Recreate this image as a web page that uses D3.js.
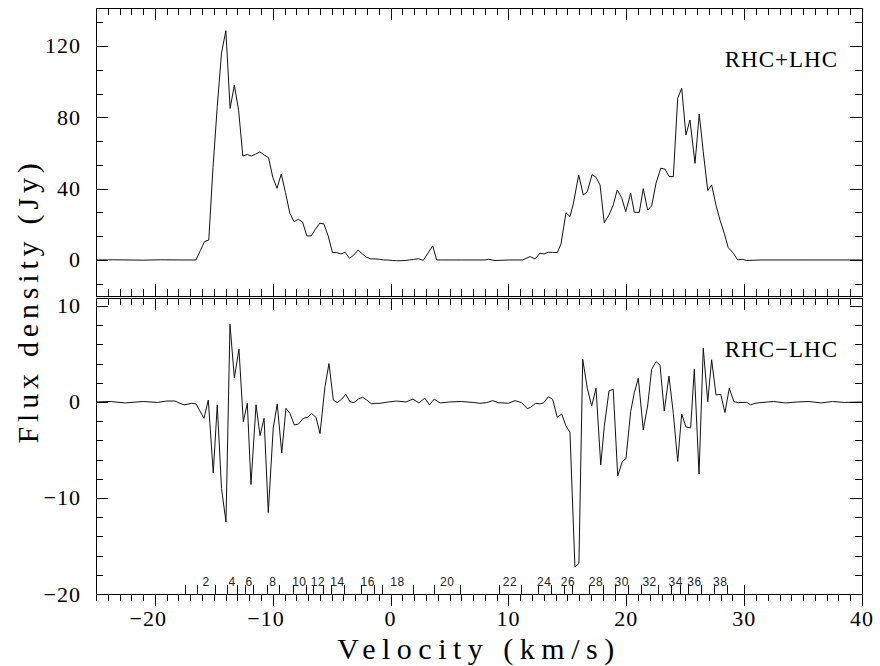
<!DOCTYPE html>
<meta charset="utf-8">
<style>
body{ margin:0; background:#fff; }
text{ font-family:"Liberation Serif", serif; fill:#000; }
.num{ font-size:22px; letter-spacing:1px; }
.title{ font-size:30px; }
.tag{ font-size:23px; letter-spacing:1px; }
.spot{ font-family:"Liberation Sans", sans-serif; font-size:12px; fill:#222; letter-spacing:0.5px; }
line{ stroke:#000; stroke-width:1; shape-rendering:crispEdges; }
.frame{ fill:none; stroke:#000; stroke-width:1; shape-rendering:crispEdges; }
.spec{ fill:none; stroke:#111; stroke-width:1; stroke-linejoin:round; }
</style>
<body>
<script src="https://d3js.org/d3.v7.min.js"></script>
<script>

// RHC+LHC (top panel)
var velSum = [-25,-23.5,-21.0,-19.5,-17.87,-16.52,-16.15,-15.79,-15.43,-15.07,-14.71,-14.35,-13.98,-13.62,-13.26,
  -12.90,-12.54,-12.17,-11.81,-11.45,-11.09,-10.73,-10.36,-10.00,-9.64,-9.28,-8.92,-8.55,-8.19,-7.83,-7.47,
  -7.11,-6.74,-6.38,-6.02,-5.66,-5.30,-4.93,-4.57,-4.21,-3.85,-3.49,-3.12,-2.76,-2.40,-2.04,-1.68,-1.31,-0.95,
  -0.59,-0.23,0.14,0.50,0.86,1.22,1.58,1.95,2.35,2.77,3.57,3.91,4.3,6.0,8.0,8.29,8.86,10.0,11.21,11.83,12.25,
  12.68,13.01,13.38,13.74,14.14,14.46,14.88,15.22,15.50,15.96,16.35,16.69,17.09,17.43,17.77,18.13,18.53,18.89,
  19.23,19.61,19.95,20.37,20.68,21.10,21.44,21.81,22.15,22.52,22.92,23.28,23.62,23.99,24.36,24.70,25.06,25.40,
  25.83,26.19,26.53,26.91,27.24,27.61,27.95,28.31,28.65,29.08,29.45,29.84,30.21,31.34,35.0,40.0];
var fluxSum = [0,0.1,-0.1,0.1,0,0,5.2,10.3,11.2,52,86,116,128.6,85,98,
  84,58.3,59.1,58.3,59.4,60.6,58.9,57.4,46.4,40.2,48.2,37.8,26.2,21.5,22.8,21.3,
  13.5,13.5,17.2,20.6,20.2,13.5,4.1,4.1,3.4,4.3,0.9,2.8,5.6,3.4,1.5,0.6,0.6,0.4,
  0,0,-0.3,-0.4,-0.4,-0.3,0,0.3,0.7,-0.2,7.9,0,0,0,0,0.4,-0.3,0,0,1.9,0.6,
  3.8,3.4,4.3,4.3,4.1,9.0,26.5,24.3,31.4,47.7,36.4,38.3,47.8,46.4,42.1,20.9,25.2,30.8,
  39.3,34.9,27.1,37.4,26.7,26.7,40.0,28.0,30.3,43.0,51.4,51.0,46.9,46.7,90.7,96.3,70.1,78.5,
  54.2,81.9,60.7,38.9,42.1,30.8,22.4,15.0,6.9,3.8,0,0.4,-0.3,0,0,0];

// RHC-LHC (bottom panel)
var velDiff = [-25,-23.8,-22.5,-21.0,-19.8,-19.0,-18.3,-17.87,-17.53,-16.88,-16.51,-15.84,-15.47,-15.05,-14.71,
  -14.35,-13.97,-13.63,-13.26,-12.87,-12.50,-12.16,-11.85,-11.42,-11.08,-10.74,-10.38,-9.96,-9.62,-9.24,-8.88,
  -8.54,-8.17,-7.83,-7.41,-7.04,-6.70,-6.33,-5.99,-5.57,-5.23,-4.86,-4.52,-4.15,-3.81,-3.45,-3.11,-2.74,-2.37,
  -2.03,-1.61,-1.33,-0.90,-0.2,0.5,1.3,1.9,2.4,2.9,3.3,3.7,4.2,5.0,6.0,7.0,7.58,8.15,8.66,9.14,9.99,10.55,
  11.12,11.60,11.88,12.31,12.67,13.01,13.38,13.75,14.14,14.52,14.88,15.22,15.64,15.98,16.30,16.69,17.06,17.43,
  17.83,18.13,18.53,18.89,19.27,19.66,19.97,20.37,20.68,21.02,21.44,21.81,22.15,22.52,22.86,23.22,23.62,23.99,
  24.36,24.70,25.06,25.46,25.77,26.17,26.53,26.91,27.24,27.61,28.01,28.37,28.74,29.13,29.50,30.21,30.55,30.92,
  31.34,32.5,33.5,34.5,35.5,36.5,37.5,38.5,40.0];
var fluxDiff = [0,0.05,-0.1,0.05,-0.05,0.1,0.1,-0.14,-0.3,-0.14,-0.2,-1.7,0.2,-7.4,-0.3,
  -9.0,-12.5,8.1,2.5,5.5,-2.05,-0.14,-8.6,-0.3,-3.5,-1.7,-11.5,-2.7,-0.2,-5.3,-0.66,
  -1.2,-2.4,-2.3,-1.7,-1.6,-1.2,-1.6,-3.3,1.6,4.0,0.2,-0.07,0.3,0.8,0.03,-0.07,0.3,0.5,
  0.2,-0.2,-0.14,-0.14,0,0.1,0,0.3,-0.1,0.4,-0.3,0.3,-0.1,0,0.05,-0.05,-0.14,-0.07,0.14,-0.07,-0.14,0.14,
  -0.07,-0.7,-0.55,-0.14,-0.2,-0.07,0.55,0.28,-1.6,-1.25,-2.5,-3.15,-17.2,-16.8,4.45,1.43,-0.42,1.43,
  -6.56,-2.57,1.15,1.32,-7.7,-6.2,-5.9,-1.0,0.97,2.47,-2.9,-0.42,3.4,4.2,3.85,-0.94,2.7,-1.18,
  -6.2,-1.25,-2.6,-2.7,3.4,-7.5,5.6,0.03,4.4,0.73,0.8,-1.1,1.43,0.03,-0.07,-0.03,-0.3,-0.14,
  -0.07,0.05,-0.1,0,0.05,-0.1,0.05,-0.05,0];

// numbered spot markers along the velocity axis (1..40)
var spotVel = [-17.45,-16.40,-14.90,-13.86,-13.06,-12.36,-11.65,-10.52,-9.47,-8.31,
  -7.18,-6.56,-5.76,-5.06,-3.96,-2.51,-1.39,-0.71,1.87,3.68,
  5.93,9.22,11.04,12.49,13.59,14.71,15.39,16.86,17.99,19.04,
  20.17,21.24,22.71,23.83,24.55,25.23,26.34,27.40,28.54,29.99];

var xTicks = [-20,-10,0,10,20,30,40];
var sumTicks = [0,40,80,120];
var diffTicks = [-20,-10,0,10];
var panelTags = ["RHC+LHC","RHC\u2212LHC"];

var svg = d3.select("body").append("svg").attr("width",880).attr("height",666);

var x = d3.scaleLinear().domain([-25,40]).range([96,862]);
var yTop = d3.scaleLinear().domain([-20.2,141.3]).range([296,8]);
var yBot = d3.scaleLinear().domain([-20,10.83]).range([594,298]);

var minorLen = 7, majorLen = 12;
var minusW = 6.7;   // half width of the minus sign, digits stay centred on the tick

function lab(v){ return d3.format("")(v).replace("-","\u2212"); }

function panel(y, major, minorStep, tag, outsideBottom){
  var g = svg.append("g");
  var x0 = x.range()[0], x1 = x.range()[1];
  var yb = y.range()[0], yt = y.range()[1];

  g.append("rect").attr("class","frame")
    .attr("x",x0+0.5).attr("y",yt+0.5).attr("width",x1-x0).attr("height",yb-yt);

  // x ticks every 1 km/s
  d3.range(-25,40.5,1).forEach(function(v){
    var len = (v%10===0)? majorLen : minorLen;
    var px = Math.round(x(v))+0.5;
    g.append("line").attr("x1",px).attr("x2",px).attr("y1",yt).attr("y2",yt+len);
    if(outsideBottom) g.append("line").attr("x1",px).attr("x2",px).attr("y1",yb).attr("y2",yb+len);
    else g.append("line").attr("x1",px).attr("x2",px).attr("y1",yb).attr("y2",yb-len);
  });

  // y ticks
  var d = y.domain();
  var step = major[1]-major[0];
  var k0 = Math.ceil((d[0]-major[0])/minorStep-1e-6), k1 = Math.floor((d[1]-major[0])/minorStep+1e-6);
  d3.range(k0,k1+1).forEach(function(k){
    var v = major[0]+k*minorStep;
    var isMajor = Math.abs(Math.round(v/step)*step - v) < 1e-6;
    var len = isMajor? majorLen : minorLen;
    var py = Math.round(y(v))+0.5;
    g.append("line").attr("x1",x0).attr("x2",x0+len).attr("y1",py).attr("y2",py);
    g.append("line").attr("x1",x1).attr("x2",x1-len).attr("y1",py).attr("y2",py);
  });

  g.selectAll(".ylab").data(major).enter().append("text").attr("class","num")
    .attr("x",x0-15).attr("y",function(v){ return y(v)+7.5; })
    .attr("text-anchor","end")
    .text(lab);

  g.append("text").attr("class","tag")
    .attr("x",x1-24).attr("y",yt+59)
    .attr("text-anchor","end").text(tag);
  return g;
}

panel(yTop, sumTicks, 40/3, panelTags[0], false);
var gb = panel(yBot, diffTicks, 2, panelTags[1], true);

var line = d3.line().x(d=>x(d[0]));

svg.append("path").attr("class","spec")
  .attr("d", line.y(d=>yTop(d[1]))(d3.zip(velSum,fluxSum)));
svg.append("path").attr("class","spec")
  .attr("d", line.y(d=>yBot(d[1]))(d3.zip(velDiff,fluxDiff)));

// spot markers on the bottom axis
var base = yBot.range()[0];
spotVel.forEach(function(v){
  var px = Math.round(x(v))+0.5;
  gb.append("line").attr("x1",px).attr("x2",px).attr("y1",base).attr("y2",base-9);
});
d3.range(2,39,2).forEach(function(n){
  gb.append("text").attr("class","spot")
    .attr("x",(x(spotVel[n-1])+x(spotVel[n]))/2)
    .attr("y",base-8)
    .attr("text-anchor","middle")
    .text(n);
});

svg.selectAll(".xlab").data(xTicks).enter().append("text").attr("class","num")
  .attr("x",d=>x(d)).attr("y",626)
  .attr("dx",d=>d<0? -minusW : 0)
  .attr("text-anchor","middle")
  .text(lab);

svg.append("text").attr("class","title")
  .attr("x",(x.range()[0]+x.range()[1])/2).attr("y",659)
  .attr("text-anchor","middle").style("letter-spacing","6.5px")
  .text("Velocity (km/s)");

svg.append("text").attr("class","title")
  .attr("transform","translate(38,"+((yTop.range()[1]+yBot.range()[0])/2)+") rotate(-90)")
  .attr("text-anchor","middle").style("letter-spacing","4.8px")
  .text("Flux density (Jy)");
</script>
</body>
</html>
